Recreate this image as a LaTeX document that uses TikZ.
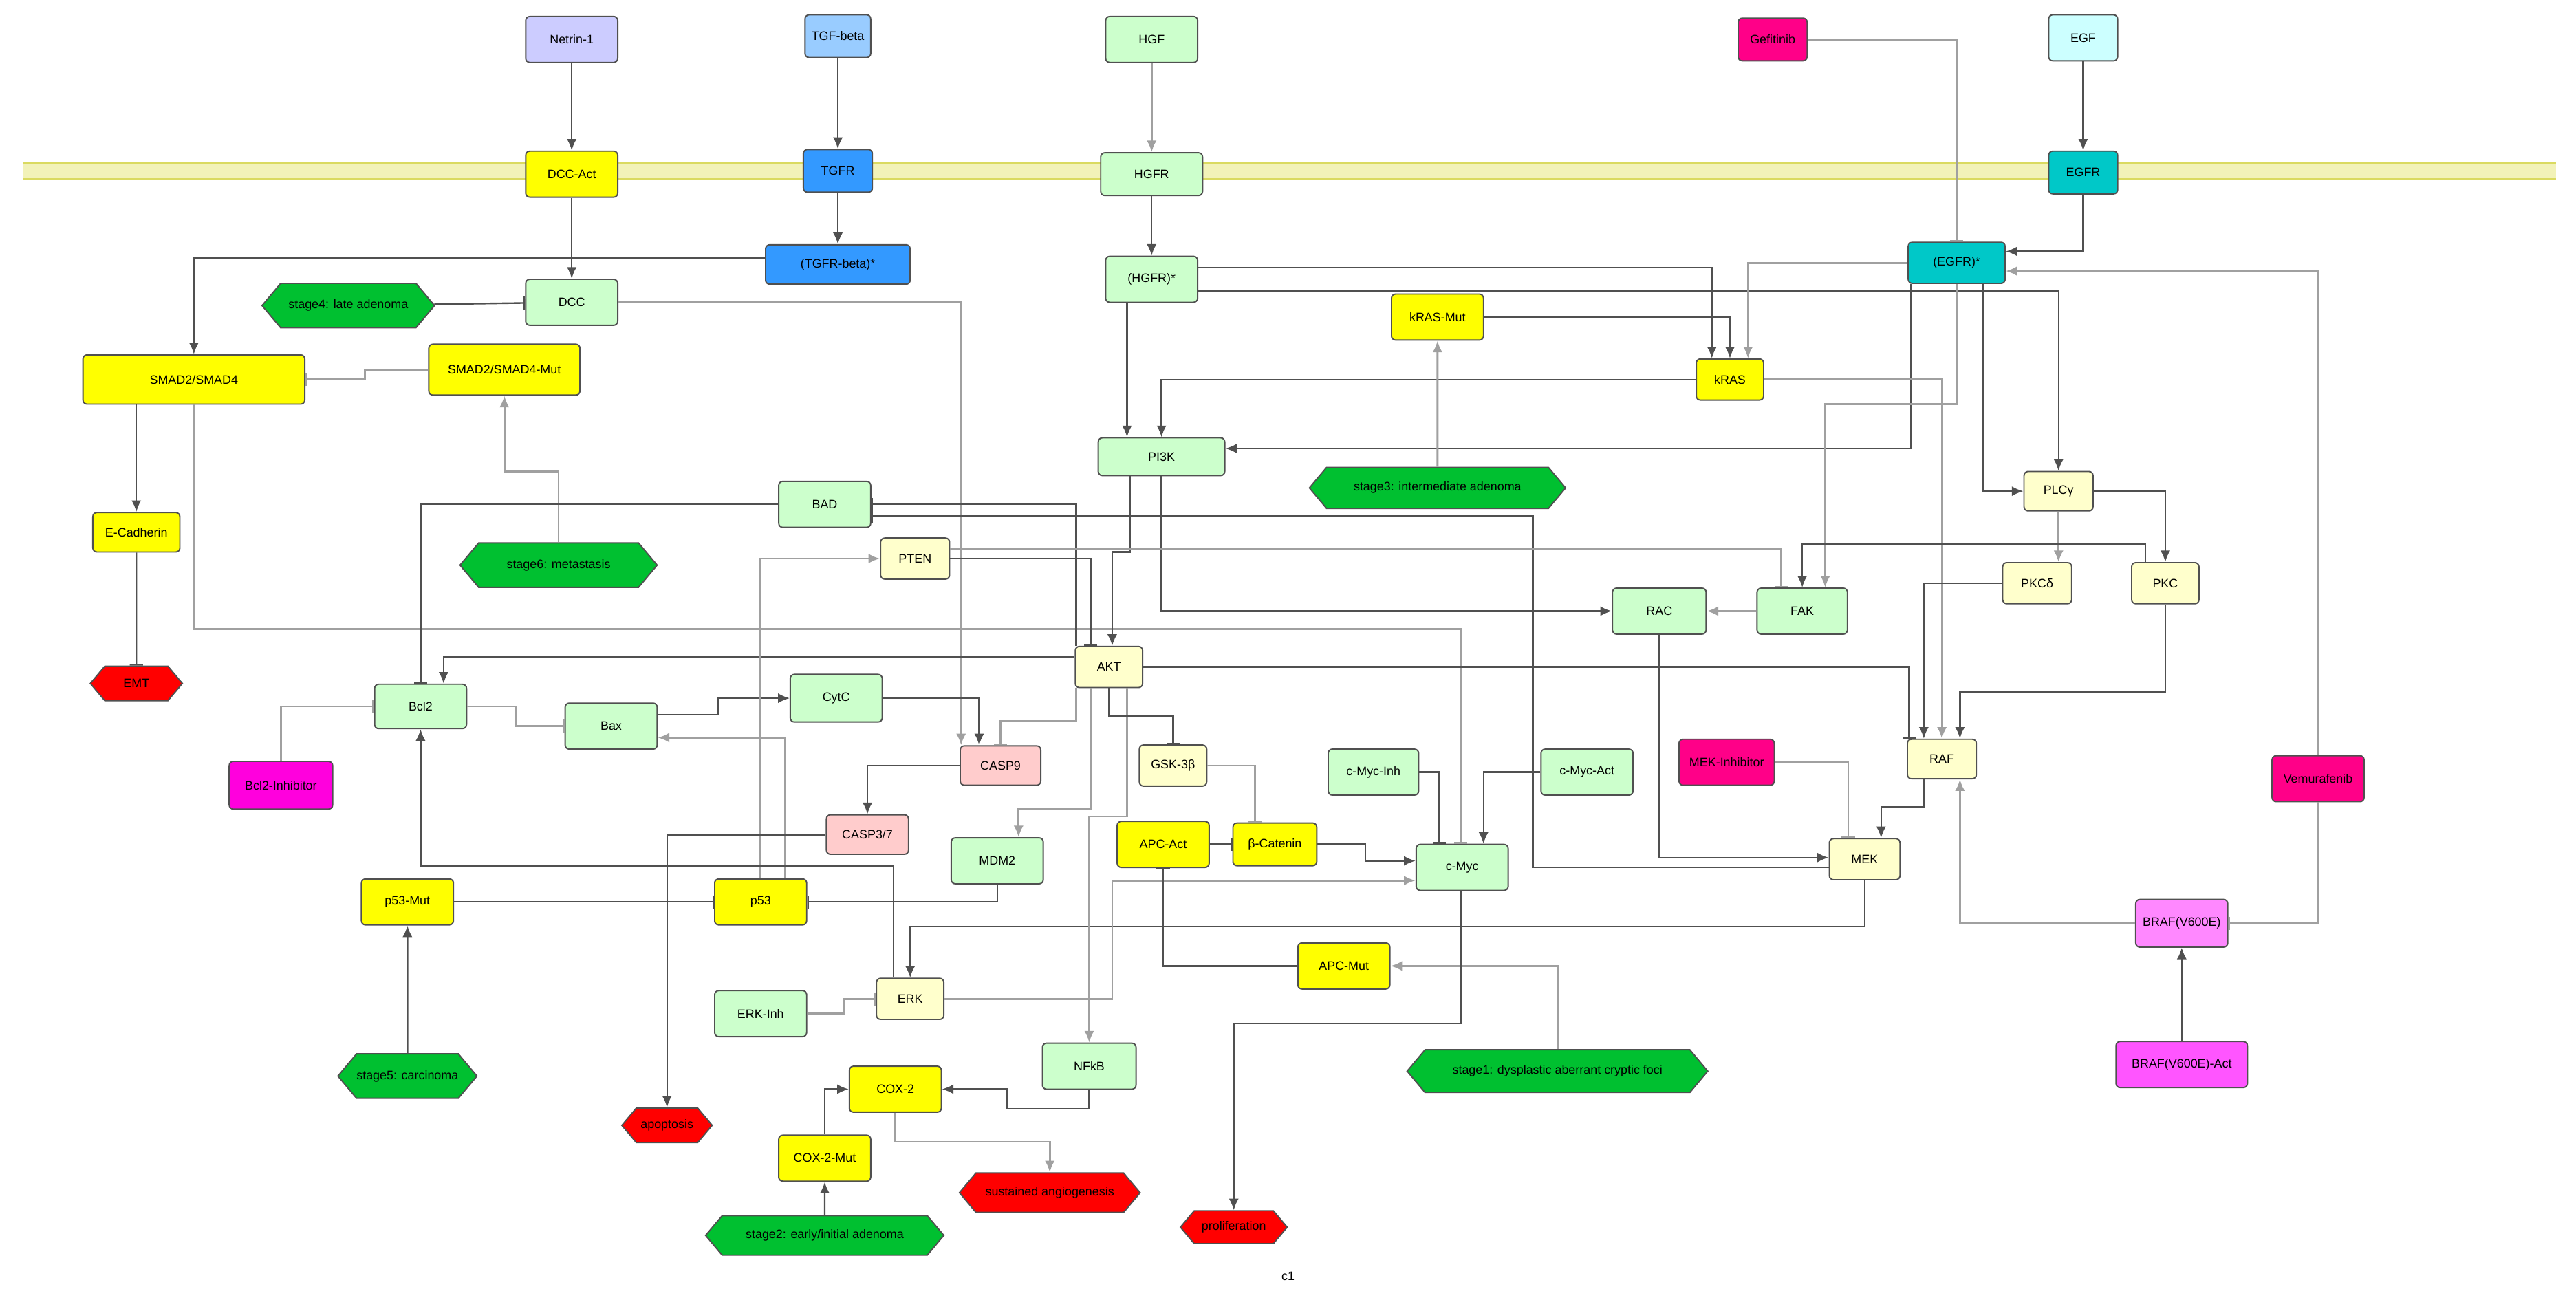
\documentclass[tikz,border=0pt]{standalone}
\usepackage{fontspec}
\setmainfont{Liberation Sans}
\usetikzlibrary{arrows.meta,shapes.symbols,backgrounds}
\definecolor{lav}{HTML}{CCCCFF}
\definecolor{lblue}{HTML}{99CCFF}
\definecolor{lgreen}{HTML}{CCFFCC}
\definecolor{mag}{HTML}{FF0088}
\definecolor{mag2}{HTML}{FF00DD}
\definecolor{lcyan}{HTML}{CCFFFF}
\definecolor{yel}{HTML}{FFFF00}
\definecolor{blu}{HTML}{3399FF}
\definecolor{teal2}{HTML}{00C8C8}
\definecolor{pyel}{HTML}{FFFFCC}
\definecolor{pink2}{HTML}{FFCCCC}
\definecolor{braf}{HTML}{FF88FF}
\definecolor{brafa}{HTML}{FF55FF}
\definecolor{hgreen}{HTML}{00C030}
\definecolor{hred}{HTML}{FF0000}
\definecolor{dkl}{HTML}{505050}
\definecolor{ltl}{HTML}{A0A0A0}
\definecolor{mem}{HTML}{F2F2B8}
\definecolor{memb}{HTML}{DADA60}
\tikzset{
  box/.style={draw=dkl, line width=0.8pt, rounded corners=2.5pt, fill=#1, inner sep=0pt, font=\fontsize{7.5}{8}\selectfont},
  hex/.style={draw=dkl, line width=0.8pt, shape=signal, signal to=east and west, signal pointer angle=100, fill=#1, inner sep=0pt, font=\fontsize{7.5}{8}\selectfont},
  sz/.style args={#1x#2}{minimum width=#1pt, minimum height=#2pt},
  dk/.style={draw=dkl, line width=1pt},
  lt/.style={draw=ltl, line width=1.2pt},
  ar/.style={-{Latex[length=7pt,width=6pt]}},
  inh/.style={-{Bar[width=8pt,line width=1pt]}},
}
\begin{document}
\begin{tikzpicture}[x=1pt,y=-1pt]
\useasboundingbox (0,0) rectangle (1568,791);
% nodes
\node[box=lav,sz=56x28] (netrin) at (348,24) {Netrin-1};
\node[box=lblue,sz=40x26] (tgfb) at (510,22) {TGF-beta};
\node[box=lgreen,sz=56x28] (hgf) at (701,24) {HGF};
\node[box=mag,sz=42x26] (gef) at (1079,24) {Gefitinib};
\node[box=lcyan,sz=42x28] (egf) at (1268,23) {EGF};
\node[box=yel,sz=56x28] (dccact) at (348,106) {DCC-Act};
\node[box=blu,sz=42x26] (tgfr) at (510,104) {TGFR};
\node[box=lgreen,sz=62x26] (hgfr) at (701,106) {HGFR};
\node[box=teal2,sz=42x26] (egfr) at (1268,105) {EGFR};
\node[box=blu,sz=88x24] (tgfrs) at (510,161) {(TGFR-beta)*};
\node[box=lgreen,sz=56x28] (dcc) at (348,184) {DCC};
\node[hex=hgreen,sz=105x27] (st4) at (212,186) {stage4: late adenoma};
\node[box=lgreen,sz=56x28] (hgfrs) at (701,170) {(HGFR)*};
\node[box=teal2,sz=59x25] (egfrs) at (1191,160) {(EGFR)*};
\node[box=yel,sz=56x28] (krasmut) at (875,193) {kRAS-Mut};
\node[box=yel,sz=41x25] (kras) at (1053,231) {kRAS};
\node[box=yel,sz=135x30] (smad) at (118,231) {SMAD2/SMAD4};
\node[box=yel,sz=92x31] (smadmut) at (307,225) {SMAD2/SMAD4-Mut};
\node[box=lgreen,sz=77x23] (pi3k) at (707,278) {PI3K};
\node[hex=hgreen,sz=156x25] (st3) at (875,297) {stage3: intermediate adenoma};
\node[box=lgreen,sz=56x28] (bad) at (502,307) {BAD};
\node[hex=hgreen,sz=120x27] (st6) at (340,344) {stage6: metastasis};
\node[box=yel,sz=53x24] (ecad) at (83,324) {E-Cadherin};
\node[box=pyel,sz=42x25] (pten) at (557,340) {PTEN};
\node[box=pyel,sz=42x24] (plcg) at (1253,299) {PLCγ};
\node[box=pyel,sz=42x25] (pkcd) at (1240,355) {PKCδ};
\node[box=pyel,sz=41x25] (pkc) at (1318,355) {PKC};
\node[box=lgreen,sz=57x28] (rac) at (1010,372) {RAC};
\node[box=lgreen,sz=55x28] (fak) at (1097,372) {FAK};
\node[hex=hred,sz=56x21] (emt) at (83,416) {EMT};
\node[box=lgreen,sz=56x27] (bcl2) at (256,430) {Bcl2};
\node[box=lgreen,sz=56x28] (bax) at (372,442) {Bax};
\node[box=lgreen,sz=56x29] (cytc) at (509,425) {CytC};
\node[box=pyel,sz=41x25] (akt) at (675,406) {AKT};
\node[box=mag2,sz=63x29] (bcl2inh) at (171,478) {Bcl2-Inhibitor};
\node[box=pink2,sz=49x24] (casp9) at (609,466) {CASP9};
\node[box=pyel,sz=41x25] (gsk) at (714,466) {GSK-3β};
\node[box=lgreen,sz=55x28] (mycinh) at (836,470) {c-Myc-Inh};
\node[box=lgreen,sz=56x28] (mycact) at (966,470) {c-Myc-Act};
\node[box=mag,sz=58x28] (mekinh) at (1051,464) {MEK-Inhibitor};
\node[box=pyel,sz=42x24] (raf) at (1182,462) {RAF};
\node[box=mag,sz=56x28] (vem) at (1411,474) {Vemurafenib};
\node[box=pink2,sz=50x24] (casp37) at (528,508) {CASP3/7};
\node[box=yel,sz=56x28] (apcact) at (708,514) {APC-Act};
\node[box=yel,sz=51x26] (bcat) at (776,514) {β-Catenin};
\node[box=lgreen,sz=56x28] (myc) at (890,528) {c-Myc};
\node[box=pyel,sz=43x25] (mek) at (1135,523) {MEK};
\node[box=lgreen,sz=56x28] (mdm2) at (607,524) {MDM2};
\node[box=yel,sz=56x28] (p53mut) at (248,549) {p53-Mut};
\node[box=yel,sz=56x28] (p53) at (463,549) {p53};
\node[box=braf,sz=56x29] (braf) at (1328,562) {BRAF(V600E)};
\node[box=yel,sz=56x28] (apcmut) at (818,588) {APC-Mut};
\node[box=pyel,sz=41x25] (erk) at (554,608) {ERK};
\node[box=lgreen,sz=56x28] (erkinh) at (463,617) {ERK-Inh};
\node[hex=hgreen,sz=183x26] (st1) at (948,652) {stage1: dysplastic aberrant cryptic foci};
\node[hex=hgreen,sz=80x27] (st5) at (248,655) {stage5: carcinoma};
\node[box=lgreen,sz=57x28] (nfkb) at (663,649) {NFkB};
\node[box=yel,sz=56x28] (cox2) at (545,663) {COX-2};
\node[hex=hred,sz=55x21] (apop) at (406,685) {apoptosis};
\node[box=yel,sz=56x28] (coxmut) at (502,705) {COX-2-Mut};
\node[box=brafa,sz=80x28] (brafact) at (1328,648) {BRAF(V600E)-Act};
\node[hex=hred,sz=110x24] (angio) at (639,726) {sustained angiogenesis};
\node[hex=hgreen,sz=145x24] (st2) at (502,752) {stage2: early/initial adenoma};
\node[hex=hred,sz=65x20] (prolif) at (751,747) {proliferation};
\node[font=\fontsize{7.5}{8}\selectfont] (c1) at (784,777) {c1};
% membrane
\begin{pgfonlayer}{background}
\fill[mem] (14,99) rectangle (1556,109);
\draw[memb,line width=1.2pt] (14,99) -- (1556,99) (14,109) -- (1556,109);
\end{pgfonlayer}
% edges
\draw[dk,ar] (netrin) -- (dccact);
\draw[dk,ar] (tgfb) -- (tgfr);
\draw[dk,ar] (tgfr) -- (tgfrs);
\draw[lt,ar] (hgf) -- (hgfr);
\draw[dk,ar] (hgfr) -- (hgfrs);
\draw[dk,ar] (egf) -- (egfr);
\draw[dk,ar] (egfr.south) |- ([yshift=7pt]egfrs.east);
\draw[lt,inh] (gef.east) -| (egfrs.north);
\draw[dk,ar] (dccact) -- (dcc);
\draw[dk,ar] ([yshift=4pt]tgfrs.west) -| (smad.north);
\draw[dk,inh] (st4) -- (dcc);
\draw[lt,ar] (dcc.east) -| ([xshift=-24pt]casp9.north);
\draw[lt,inh] (smadmut.west) -- (222,225) -- (222,231) -- (smad.east);
\draw[lt,ar] (st6.north) -- (340,287) -- (307,287) -- (smadmut.south);
\draw[dk,ar] ([xshift=-35pt]smad.south) -- (ecad.north);
\draw[dk,inh] (ecad) -- (emt);
\draw[lt,inh] (smad.south) -- (118,383) -- (889,383) -- ([xshift=-1pt]myc.north);
\draw[dk,inh] (mycinh.east) -| ([xshift=-14pt]myc.north);
\draw[dk,ar] (mycact.west) -| ([xshift=13pt]myc.north);
\draw[dk,inh] ([xshift=-20pt]akt.north) |- (bad.east);
\draw[dk,inh] ([yshift=-5pt]mek.west) -- (933,528) -- (933,314) -- ([yshift=-7pt]bad.east);
\draw[dk,ar] (rac.south) |- ([yshift=1pt]mek.west);
\draw[dk,inh] (bad.west) -| (bcl2.north);
\draw[dk,ar] ([yshift=6pt]akt.west) -| ([xshift=14pt]bcl2.north);
\draw[lt,inh] (bcl2inh.north) |- (bcl2.west);
\draw[lt,inh] (bcl2.east) -- (314,430) -- (314,442) -- (bax.west);
\draw[dk,ar] ([yshift=7pt]bax.east) -- (437,435) -- (437,425) -- (cytc.west);
\draw[lt,ar] ([xshift=15pt]p53.north) |- ([yshift=-7pt]bax.east);
\draw[lt,ar] (p53.north) |- (pten.west);
\draw[dk,inh] (mdm2.south) |- (p53.east);
\draw[dk,inh] (p53mut) -- (p53);
\draw[dk,ar] (st5) -- (p53mut);
\draw[dk,ar] ([xshift=-10pt]erk.north) -- (544,527) -- (256,527) -- (bcl2.south);
\draw[lt,inh] (erkinh.east) -- (514,617) -- (514,608) -- (erk.west);
\draw[dk,ar] (mek.south) -- (1135,564) -- (554,564) -- (erk.north);
\draw[lt,ar] (erk.east) -- (677,608) -- (677,536) -- ([yshift=-8pt]myc.west);
\draw[dk,ar] (bcat.east) -- (831,514) -- (831,524) -- ([yshift=4pt]myc.west);
\draw[dk,inh] (apcact) -- (bcat);
\draw[dk,inh] (apcmut.west) -| (apcact.south);
\draw[lt,ar] (st1.north) |- (apcmut.east);
\draw[dk,ar] ([xshift=-1pt]myc.south) -- (889,623) -- (751,623) -- (prolif.north);
\draw[lt,ar] ([xshift=11pt]akt.south) -- (686,497) -- (663,497) -- (nfkb.north);
\draw[lt,ar] ([xshift=-11pt]akt.south) -- (664,492) -- (620,492) -- ([xshift=13pt]mdm2.north);
\draw[lt,inh] ([xshift=-20pt]akt.south) -- (655,439) -- (609,439) -- (casp9.north);
\draw[dk,inh] (akt.south) -- (675,436) -- (714,436) -- (gsk.north);
\draw[lt,inh] (gsk.east) -| ([xshift=-12pt]bcat.north);
\draw[dk,ar] (cytc.east) -| ([xshift=-13pt]casp9.north);
\draw[dk,ar] (casp9.west) -| (casp37.north);
\draw[dk,ar] (casp37.west) -| (apop.north);
\draw[dk,ar] (nfkb.south) -- (663,675) -- (613,675) -- (613,663) -- (cox2.east);
\draw[dk,ar] (coxmut.north) |- (cox2.west);
\draw[dk,ar] (st2) -- (coxmut);
\draw[lt,ar] (cox2.south) -- (545,695) -- (639,695) -- (angio.north);
\draw[dk,ar] ([xshift=-19pt]pi3k.south) -- (688,336) -- (677,336) -- ([xshift=2pt]akt.north);
\draw[dk,ar] (pi3k.south) |- (rac.west);
\draw[dk,ar] ([xshift=-15pt]hgfrs.south) -- ([xshift=-21pt]pi3k.north);
\draw[dk,ar] (kras.west) -| (pi3k.north);
\draw[dk,ar] ([xshift=-28pt]egfrs.south) |- ([yshift=5pt]pi3k.east);
\draw[dk,ar] ([yshift=7pt]hgfrs.east) -| ([xshift=-11pt]kras.north);
\draw[dk,ar] ([yshift=-7pt]hgfrs.east) -| (plcg.north);
\draw[dk,ar] (krasmut.east) -| (kras.north);
\draw[lt,ar] (egfrs.west) -| ([xshift=11pt]kras.north);
\draw[lt,ar] (st3) -- (krasmut);
\draw[lt,ar] (kras.east) -| (raf.north);
\draw[lt,ar] (egfrs.south) -- (1191,246) -- (1111,246) -- ([xshift=14pt]fak.north);
\draw[dk,ar] ([xshift=16pt]egfrs.south) |- (plcg.west);
\draw[lt,ar] (plcg.south) -- ([xshift=13pt]pkcd.north);
\draw[dk,ar] (plcg.east) -| (pkc.north);
\draw[dk,ar] ([xshift=-12pt]pkc.north) -- (1306,331) -- (1097,331) -- (fak.north);
\draw[lt,inh] ([yshift=6pt]pten.east) -- (1084,334) -- ([xshift=-13pt]fak.north);
\draw[dk,inh] (pten.east) -| ([xshift=-11pt]akt.north);
\draw[lt,ar] (fak) -- (rac);
\draw[dk,ar] (pkcd.west) -| ([xshift=-11pt]raf.north);
\draw[dk,ar] (pkc.south) -- (1318,421) -- (1193,421) -- ([xshift=11pt]raf.north);
\draw[dk,inh] (akt.east) -| ([xshift=-20pt]raf.north);
\draw[dk,ar] ([xshift=-11pt]raf.south) -- (1171,491) -- (1145,491) -- ([xshift=10pt]mek.north);
\draw[lt,inh] (mekinh.east) -| ([xshift=-10pt]mek.north);
\draw[lt,ar] (braf.west) -| ([xshift=11pt]raf.south);
\draw[lt,inh] (vem.south) |- (braf.east);
\draw[lt,ar] (vem.north) |- ([yshift=-5pt]egfrs.east);
\draw[dk,ar] (brafact) -- (braf);
\end{tikzpicture}
\end{document}
